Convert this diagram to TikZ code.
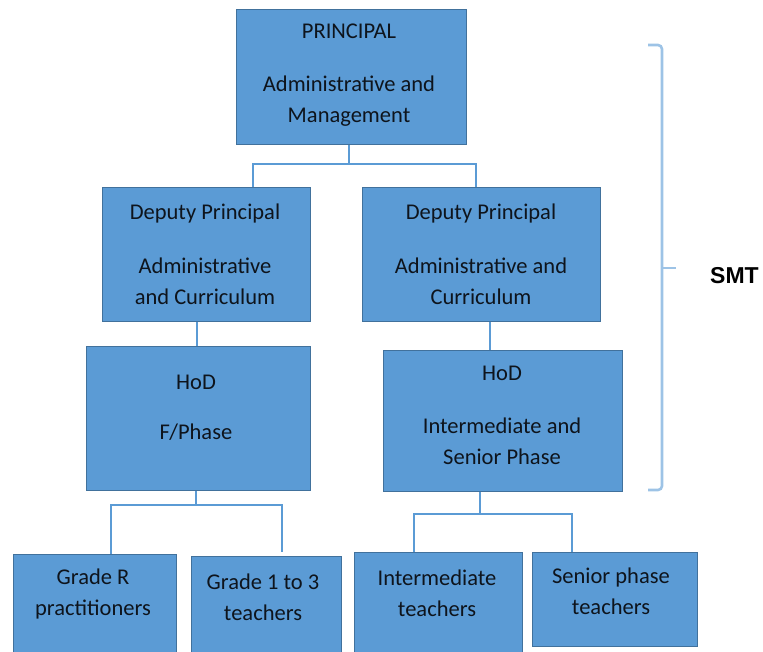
\documentclass[tikz,border=0pt]{standalone}
\usepackage{fontspec}
\setmainfont{Carlito}
\newfontfamily\smtfont{Liberation Sans}
\definecolor{boxfill}{HTML}{5B9BD5}
\definecolor{boxline}{HTML}{41719C}
\definecolor{connc}{HTML}{5B9BD5}
\definecolor{bracec}{HTML}{9DC3E6}
\definecolor{txtc}{HTML}{0E141C}
\begin{document}
\begin{tikzpicture}[x=1pt,y=-1pt,
  orgbox/.style={draw=boxline, fill=boxfill, line width=1.3pt, inner sep=0pt, anchor=north west},
  lbl/.style={align=center, text=txtc, inner sep=0pt, font=\fontsize{22.5}{31}\selectfont},
  conn/.style={draw=connc, line width=1.6pt},
  bracestyle/.style={draw=bracec, line width=2.6pt, rounded corners=4pt},
  smtstyle/.style={font=\smtfont\bfseries\fontsize{23}{27}\selectfont, text=black, inner sep=0pt}]
\useasboundingbox (0,0) rectangle (763,651);

% boxes
\node[orgbox, minimum width=230pt, minimum height=135pt] (principal) at (236,9) {};
\node[orgbox, minimum width=208pt, minimum height=134pt] (depL) at (102,187) {};
\node[orgbox, minimum width=238pt, minimum height=134pt] (depR) at (362,187) {};
\node[orgbox, minimum width=224pt, minimum height=144pt] (hodL) at (86,346) {};
\node[orgbox, minimum width=239pt, minimum height=141pt] (hodR) at (383,350) {};
\node[orgbox, minimum width=163pt, minimum height=120pt] (gradeR) at (13,554) {};
\node[orgbox, minimum width=150pt, minimum height=120pt] (grade13) at (191,556) {};
\node[orgbox, minimum width=168pt, minimum height=120pt] (inter) at (354,552) {};
\node[orgbox, minimum width=165pt, minimum height=94pt] (senior) at (532,552) {};

% texts
\node[lbl] (tprincipal) at (349,75) {PRINCIPAL\\[22pt]Administrative and\\Management};
\node[lbl] (tdepL) at (205,254.5) {Deputy Principal\\[23pt]Administrative\\and Curriculum};
\node[lbl] (tdepR) at (481,254.5) {Deputy Principal\\[23pt]Administrative and\\Curriculum};
\node[lbl] (thodL) at (196,408) {HoD\\[19pt]F/Phase};
\node[lbl] (thodR) at (502,415) {HoD\\[22pt]Intermediate and\\Senior Phase};
\node[lbl] (tgradeR) at (93,594) {Grade R\\practitioners};
\node[lbl] (tgrade13) at (263,597.5) {Grade 1 to 3\\teachers};
\node[lbl] (tinter) at (437,593) {Intermediate\\teachers};
\node[lbl] (tsenior) at (611,591.5) {Senior phase\\teachers};

% connectors
\coordinate (j1) at (349,164);
\draw[conn] (principal.south -| j1) -- (j1);
\draw[conn] (depL.north -| 253,0) |- (j1) -| (depR.north -| 476,0);

\draw[conn] (depL.south -| 197,0) -- (hodL.north -| 197,0);
\draw[conn] (depR.south -| 490,0) -- (hodR.north -| 490,0);

\coordinate (j2) at (196,505);
\draw[conn] (hodL.south -| j2) -- (j2);
\draw[conn] (gradeR.north -| 111,0) |- (j2) -| (282,552);

\coordinate (j3) at (480,514);
\draw[conn] (hodR.south -| j3) -- (j3);
\draw[conn] (inter.north -| 414,0) |- (j3) -| (senior.north -| 572,0);

% brace and SMT
\node[smtstyle] (smt) at (734.5,276) {SMT};
\draw[bracestyle] (648,45) -- (662,45) -- (662,490) -- (648,490);
\coordinate (bracetip) at (676,268);
\draw[draw=bracec, line width=2.2pt] (662,268) -- (bracetip);
\end{tikzpicture}
\end{document}
